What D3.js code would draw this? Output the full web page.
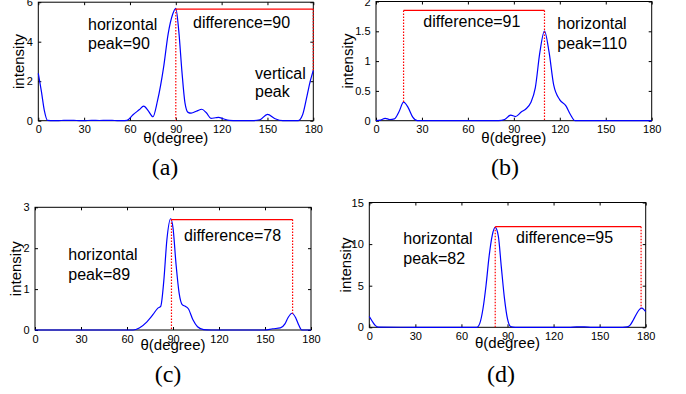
<!DOCTYPE html>
<html>
<head>
<meta charset="utf-8">
<script src="https://cdn.jsdelivr.net/npm/d3@7"></script>
<style>
  html, body { margin: 0; padding: 0; background: #fff; }
  svg { display: block; }
  text { font-family: "Liberation Sans", Arial, Helvetica, sans-serif; }
</style>
</head>
<body>
<div id="chart"></div>
<script>
// ---------- data ----------
const xTicks = [0, 30, 60, 90, 120, 150, 180];

const thetaA = [0,2,4,6,10,15,20,25,30,35,40,45,50,55,58,62,66,69,72,75,78,82,85,88,90,92,94,96,98,100,104,107,110,113,116,118,121,125,130,140,145,150,155,160,165,170,173,176,178,180];
const intensityA = [2.4,1.5,0.5,0.02,0,0.01,0.02,0.01,0,0.02,0.01,0.02,0.01,0,0.02,0.3,0.55,0.74,0.5,0.2,1.0,2.7,4.4,5.4,5.69,4.5,2.5,0.9,0.42,0.38,0.5,0.58,0.4,0.12,0.15,0.17,0.1,0.02,0,0,0.05,0.32,0.1,0,0,0,0.3,1.3,2.0,2.55];

const thetaB = [0,3,6,9,12,15,18,21,24,27,30,60,80,84,88,91,95,98,101,104,107,110,113,116,120,124,127,130,135,180];
const intensityB = [0,0.01,0.04,0.02,0.03,0.15,0.31,0.22,0.06,0,0,0,0,0.02,0.095,0.07,0.15,0.2,0.3,0.55,1.15,1.505,1.15,0.6,0.35,0.25,0.1,0,0,0];

const thetaC = [0,30,60,64,68,73,77,80,82,84,86,88.5,90,92,94,96,98,100,103,106,110,115,150,155,160,163,165,167.6,170,172,174,180];
const intensityC = [0,0,0,0,0.05,0.2,0.38,0.53,0.58,1.2,2.2,2.72,2.5,1.6,0.9,0.62,0.58,0.52,0.25,0.08,0.01,0,0,0.03,0.05,0.15,0.3,0.41,0.3,0.12,0,0];

const thetaD = [0,2,4,6,30,60,70,72,74,76,78,80,82,84,86,88,90,92,95,130,135,140,145,165,168,170,172,174,176,177.5,179,180];
const intensityD = [1.3,0.7,0.2,0.02,0,0,0,0.5,2.2,5,8.5,11,12.0,11,7.2,3.5,1,0.1,0,0,0.05,0.06,0,0,0.05,0.3,0.9,1.6,2.15,2.3,2.1,1.9];

const yTicksA = [0, 2, 4, 6];
const yTicksB = [0, 0.5, 1, 1.5, 2];
const yTicksC = [0, 1, 2, 3];
const yTicksD = [0, 5, 10, 15];

// difference markers: start angle, end angle, level, low end at start, low end at end
const markFrom  = [90, 18, 89, 82];
const markTo    = [180, 110, 168, 177];
const markLevel = [5.65, 1.85, 2.7, 12.1];
const markLowFrom = [0, 0.31, 0, 0];
const markLowTo   = [2.55, 0, 0.4, 2.3];

const peakLabels = ["peak=90", "peak=110", "peak=89", "peak=82"];
const diffLabels = ["difference=90", "difference=91", "difference=78", "difference=95"];
const captions = ["(a)", "(b)", "(c)", "(d)"];

// ---------- layout ----------
const W = 686, H = 394;
const panels = [
  { theta: thetaA, val: intensityA, yTicks: yTicksA,
    box: [38.3, 313.3, 2.2, 120.7], ylabX: 20, xlabDy: 22.5,
    hor: [88, 30], peak: [88, 49], diff: [193, 28], cap: [165, 175],
    extra: [["vertical", 255, 78.5], ["peak", 255, 97]] },
  { theta: thetaB, val: intensityB, yTicks: yTicksB,
    box: [376, 651.7, 1.5, 120.7], ylabX: 349, xlabDy: 22.5,
    hor: [557.3, 29.3], peak: [557.3, 48.5], diff: [423.3, 27], cap: [505, 175],
    extra: [] },
  { theta: thetaC, val: intensityC, yTicks: yTicksC,
    box: [35, 311, 207.3, 330], ylabX: 17.5, xlabDy: 20,
    hor: [68.3, 260], peak: [68.3, 280], diff: [184, 241], cap: [168, 382],
    extra: [] },
  { theta: thetaD, val: intensityD, yTicks: yTicksD,
    box: [369.3, 645.7, 202.5, 327.3], ylabX: 347.5, xlabDy: 20.7,
    hor: [403.3, 244.3], peak: [403.3, 264], diff: [516, 243.3], cap: [501, 382],
    extra: [] }
];

const svg = d3.select("#chart").append("svg")
  .attr("width", W).attr("height", H)
  .attr("viewBox", `0 0 ${W} ${H}`);

const fmt = d => String(d);

panels.forEach((p, i) => {
  const [x0, x1, y0, y1] = p.box;
  const yMax = p.yTicks[p.yTicks.length - 1];
  const x = d3.scaleLinear().domain([0, 180]).range([x0, x1]);
  const y = d3.scaleLinear().domain([0, yMax]).range([y1, y0]);
  const g = svg.append("g");

  // box
  g.append("rect").attr("x", x0).attr("y", y0)
    .attr("width", x1 - x0).attr("height", y1 - y0)
    .attr("fill", "none").attr("stroke", "#000").attr("stroke-width", 1);

  const styleAxis = sel => {
    sel.select(".domain").remove();
    sel.selectAll("line").attr("stroke", "#000").attr("stroke-width", 1);
    sel.selectAll("text").attr("fill", "#000").style("font-size", "11px")
      .style("font-family", '"Liberation Sans", Arial, sans-serif');
  };

  g.append("g").attr("transform", `translate(0,${y1})`)
    .call(d3.axisBottom(x).tickValues(xTicks).tickFormat(fmt).tickSize(-3).tickSizeOuter(0).tickPadding(4.7))
    .call(styleAxis);
  g.append("g").attr("transform", `translate(0,${y0})`)
    .call(d3.axisTop(x).tickValues(xTicks).tickFormat("").tickSize(-3).tickSizeOuter(0))
    .call(styleAxis);
  g.append("g").attr("transform", `translate(${x0},0)`)
    .call(d3.axisLeft(y).tickValues(p.yTicks).tickFormat(fmt).tickSize(-3).tickSizeOuter(0).tickPadding(5.5))
    .call(styleAxis);
  g.append("g").attr("transform", `translate(${x1},0)`)
    .call(d3.axisRight(y).tickValues(p.yTicks).tickFormat("").tickSize(-3).tickSizeOuter(0))
    .call(styleAxis);

  // curve
  const pts = p.theta.map((t, k) => [t, p.val[k]]);
  g.append("path").datum(pts)
    .attr("fill", "none").attr("stroke", "#0000ff").attr("stroke-width", 1.2)
    .attr("d", d3.line().x(d => x(d[0])).y(d => y(d[1])).curve(d3.curveMonotoneX));

  // difference markers
  g.append("line")
    .attr("x1", x(markFrom[i])).attr("x2", x(markTo[i]))
    .attr("y1", y(markLevel[i])).attr("y2", y(markLevel[i]))
    .attr("stroke", "#ff0000").attr("stroke-width", 1.2);
  [[markFrom[i], markLowFrom[i]], [markTo[i], markLowTo[i]]].forEach(([t, lo]) => {
    g.append("line")
      .attr("x1", x(t)).attr("x2", x(t))
      .attr("y1", y(markLevel[i])).attr("y2", y(lo))
      .attr("stroke", "#ff0000").attr("stroke-width", 1.2)
      .attr("stroke-dasharray", "1.5,1.5");
  });

  // axis labels
  g.append("text").attr("x", (x0 + x1) / 2).attr("y", y1 + p.xlabDy)
    .attr("text-anchor", "middle").style("font-size", "15px").text("θ(degree)");
  g.append("text")
    .attr("transform", `translate(${p.ylabX + 3.8},${(y0 + y1) / 2}) rotate(-90)`)
    .attr("text-anchor", "middle").style("font-size", "15px").text("intensity");

  // annotations
  const ann = (s, ax, ay) => g.append("text").attr("x", ax).attr("y", ay)
    .style("font-size", "16px").attr("fill", "#000").text(s);
  ann("horizontal", p.hor[0], p.hor[1]);
  ann(peakLabels[i], p.peak[0], p.peak[1]);
  ann(diffLabels[i], p.diff[0], p.diff[1]);
  p.extra.forEach(e => ann(e[0], e[1], e[2]));

  // caption
  g.append("text").attr("x", p.cap[0]).attr("y", p.cap[1])
    .attr("text-anchor", "middle")
    .style("font-family", '"Liberation Serif", "Times New Roman", serif')
    .style("font-size", "24px").text(captions[i]);
});
</script>
</body>
</html>
